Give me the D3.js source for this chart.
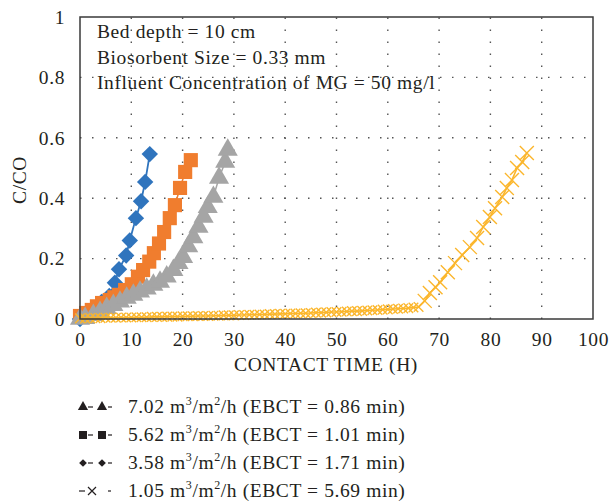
<!DOCTYPE html>
<html>
<head>
<meta charset="utf-8">
<script src="https://cdn.jsdelivr.net/npm/d3@7"></script>
<style>
body{margin:0;background:#fff}
svg{display:block}
text{font-family:"Liberation Serif","Times New Roman",serif;fill:#231f20;letter-spacing:0.6px}
</style>
</head>
<body>
<svg id="chart" width="609" height="503"></svg>
<script>
// series: 3.58 m3/m2/h (blue diamonds)
var blueT = [0, 1, 2.3, 3.3, 4.2, 5.7, 6.8, 7.6, 9.0, 9.7, 10.9, 11.9, 12.7, 13.6];
var blueC = [0, 0.012, 0.025, 0.04, 0.056, 0.076, 0.12, 0.165, 0.21, 0.26, 0.334, 0.39, 0.454, 0.546];
// 5.62 m3/m2/h (orange squares)
var orangeT = [0, 1.2, 2.3, 3.3, 4.3, 5.8, 6.7, 7.6, 8.8, 10.1, 11.3, 12.3, 13.5, 14.4, 15.4, 16.4, 17.5, 18.5, 19.5, 20.5, 21.6];
var orangeC = [0.01, 0.02, 0.03, 0.042, 0.053, 0.063, 0.072, 0.08, 0.096, 0.115, 0.14, 0.162, 0.19, 0.218, 0.25, 0.288, 0.334, 0.377, 0.434, 0.487, 0.526];
// 7.02 m3/m2/h (grey triangles)
var greyT = [0, 1, 2.6, 3.9, 5.2, 6.5, 7.8, 9.1, 10.4, 11.7, 13, 14.3, 15.6, 16.9, 18.2, 19.2, 20.1, 21.1, 22.1, 23.1, 24.1, 24.9, 26, 27.1, 28.3, 28.8];
var greyC = [0, 0.003, 0.013, 0.023, 0.036, 0.046, 0.057, 0.07, 0.08, 0.09, 0.10, 0.113, 0.123, 0.14, 0.162, 0.185, 0.205, 0.24, 0.27, 0.305, 0.338, 0.37, 0.404, 0.467, 0.52, 0.56];
// 1.05 m3/m2/h (yellow crosses)
var yellowT = [0,1,2,3,4,5,6,7,8,9,10,11,12,13,14,15,16,17,18,19,20,21,22,23,24,25,26,27,28,29,30,
  31,32,33,34,35,36,37,38,39,40,41,42,43,44,45,46,47,48,49,50,51,52,53,54,55,56,57,58,59,60,
  61,62,63,64,65,66,67.2,68.2,69.3,70.2,71.7,73.1,74.5,76,77.4,78.6,79.9,80.9,82.3,83.2,84.2,85.2,86.2,87.1];
var yellowC = [0.002,0.002,0.003,0.003,0.003,0.004,0.004,0.004,0.005,0.005,0.005,
  0.006,0.006,0.006,0.007,0.007,0.007,0.008,0.008,0.008,0.009,
  0.009,0.009,0.010,0.010,0.010,0.011,0.011,0.012,0.012,0.012,
  0.013,0.013,0.014,0.014,0.015,0.015,0.016,0.016,0.017,0.017,
  0.018,0.018,0.019,0.019,0.020,0.021,0.021,0.022,0.023,0.023,
  0.024,0.025,0.026,0.026,0.027,0.028,0.029,0.030,0.031,0.032,
  0.033,0.034,0.035,0.036,0.038,0.040,
  0.06,0.086,0.105,0.122,0.155,0.185,0.212,0.238,0.268,0.305,0.338,0.367,0.404,0.434,0.46,0.5,0.52,0.55];

var xTicks = [0,10,20,30,40,50,60,70,80,90,100];
var yTicks = [0,0.2,0.4,0.6,0.8,1];
var notes = ["Bed depth = 10 cm", "Biosorbent Size = 0.33 mm", "Influent Concentration of MG = 50 mg/l"];
var legendRates = ["7.02", "5.62", "3.58", "1.05"];
var legendEbct = ["0.86", "1.01", "1.71", "5.69"];

var FS = 19.5;
var svg = d3.select("#chart");
svg.append("rect").attr("width",609).attr("height",503).attr("fill","#fff");

var x = d3.scaleLinear().domain([0,100]).range([80,593]);
var y = d3.scaleLinear().domain([0,1]).range([319,17]);

// dotted grid
var grid = svg.append("g").attr("stroke","#555").attr("stroke-width",1.4).attr("stroke-dasharray","1.5,10.5");
grid.selectAll(".gx").data(xTicks.slice(1,-1)).enter().append("line")
  .attr("x1",d=>x(d)).attr("x2",d=>x(d)).attr("y1",y(0)).attr("y2",y(1));
grid.selectAll(".gy").data(yTicks.slice(1,-1)).enter().append("line")
  .attr("y1",d=>y(d)).attr("y2",d=>y(d)).attr("x1",x(0)).attr("x2",x(100));

// axes (labels only)
var xa = svg.append("g").attr("transform","translate(0,"+y(0)+")")
  .call(d3.axisBottom(x).tickValues(xTicks).tickSize(0).tickPadding(13).tickFormat(d3.format("d")));
var ya = svg.append("g").attr("transform","translate("+x(0)+",0)")
  .call(d3.axisLeft(y).tickValues(yTicks).tickSize(0).tickPadding(15).tickFormat(d=>d===0||d===1?d:d3.format(".1f")(d)));
[xa,ya].forEach(function(a){
  a.select(".domain").remove();
  a.selectAll("text").attr("font-size",FS).attr("font-family","Liberation Serif").attr("fill","#231f20");
});

function sym(shape){
  if(shape==="diamond") return d3.symbol().type(d3.symbolSquare).size(135);
  if(shape==="square") return d3.symbol().type(d3.symbolSquare).size(200);
  return d3.symbol().type(d3.symbolTriangle).size(175);
}
function drawSeries(ts, cs, color, shape, lineW){
  var pts = ts.map((t,i)=>({t:t,c:cs[i]}));
  svg.append("path").datum(pts)
    .attr("fill","none").attr("stroke",color).attr("stroke-width",lineW)
    .attr("d",d3.line().x(d=>x(d.t)).y(d=>y(d.c)));
  svg.append("g").selectAll("path").data(pts).enter().append("path")
    .attr("transform",d=>"translate("+x(d.t)+","+y(d.c)+")"+(shape==="diamond"?" rotate(45)":""))
    .attr("d",sym(shape))
    .attr("fill",color);
}
drawSeries(blueT, blueC, "#2f74bd", "diamond", 1.8);
drawSeries(orangeT, orangeC, "#f07d2e", "square", 1.5);
drawSeries(greyT, greyC, "#a5a5a5", "triangle", 1.5);

// yellow crosses
var ypts = yellowT.map((t,i)=>({t:t,c:yellowC[i]}));
svg.append("path").datum(ypts)
  .attr("fill","none").attr("stroke","#fbb62c").attr("stroke-width",1.6)
  .attr("d",d3.line().x(d=>x(d.t)).y(d=>y(d.c)));
svg.append("g").selectAll("path").data(ypts).enter().append("path")
  .attr("transform",d=>"translate("+x(d.t)+","+y(d.c)+")")
  .attr("d",d=>{ var r = d.t>66 ? 7 : 4.8; return "M"+(-r)+","+(-r)+"L"+r+","+r+"M"+(-r)+","+r+"L"+r+","+(-r); })
  .attr("fill","none").attr("stroke","#fbb62c").attr("stroke-width",1.4);

// frame
svg.append("rect").attr("x",x(0)).attr("y",y(1)).attr("width",x(100)-x(0)).attr("height",y(0)-y(1))
  .attr("fill","none").attr("stroke","#3a3a3a").attr("stroke-width",1.5);

// notes in the plot
svg.append("g").selectAll("text").data(notes).enter().append("text")
  .attr("x",97).attr("y",(d,i)=>38+i*25.5).attr("font-size",FS).text(d=>d);

// axis titles
svg.append("text").attr("x",326).attr("y",371).attr("text-anchor","middle").attr("font-size",FS).text("CONTACT TIME (H)");
svg.append("text").attr("transform","translate(26,180) rotate(-90)").attr("text-anchor","middle").attr("font-size",FS).text("C/CO");

// legend
var legendY = [407, 435, 463, 491];
var lg = svg.append("g");
legendRates.forEach(function(r,i){
  var cy = legendY[i];
  var g = lg.append("g").attr("stroke","#231f20").attr("stroke-width",1.2);
  if(i<3){
    var s = i===0?d3.symbolTriangle:d3.symbolSquare;
    var sz = i===0?45:i===1?64:30;
    var rot = i===2?" rotate(45)":"";
    g.append("line").attr("x1",88).attr("x2",93).attr("y1",cy).attr("y2",cy);
    g.append("line").attr("x1",108).attr("x2",112).attr("y1",cy).attr("y2",cy);
    [83,102].forEach(function(mx){
      g.append("path").attr("transform","translate("+mx+","+cy+")"+rot).attr("d",d3.symbol().type(s).size(sz)).attr("fill","#231f20").attr("stroke","none");
    });
  } else {
    g.append("line").attr("x1",79).attr("x2",85).attr("y1",cy).attr("y2",cy);
    g.append("path").attr("d","M88,"+(cy-4)+"L96,"+(cy+4)+"M88,"+(cy+4)+"L96,"+(cy-4));
    g.append("line").attr("x1",108).attr("x2",111).attr("y1",cy).attr("y2",cy);
  }
  var t = lg.append("text").attr("x",128).attr("y",cy+6).attr("font-size",FS);
  t.append("tspan").text(r+" m");
  t.append("tspan").attr("dy",-8).attr("font-size",12).text("3");
  t.append("tspan").attr("dy",8).text("/m");
  t.append("tspan").attr("dy",-8).attr("font-size",12).text("2");
  t.append("tspan").attr("dy",8).text("/h (EBCT = "+legendEbct[i]+" min)");
});
</script>
</body>
</html>
